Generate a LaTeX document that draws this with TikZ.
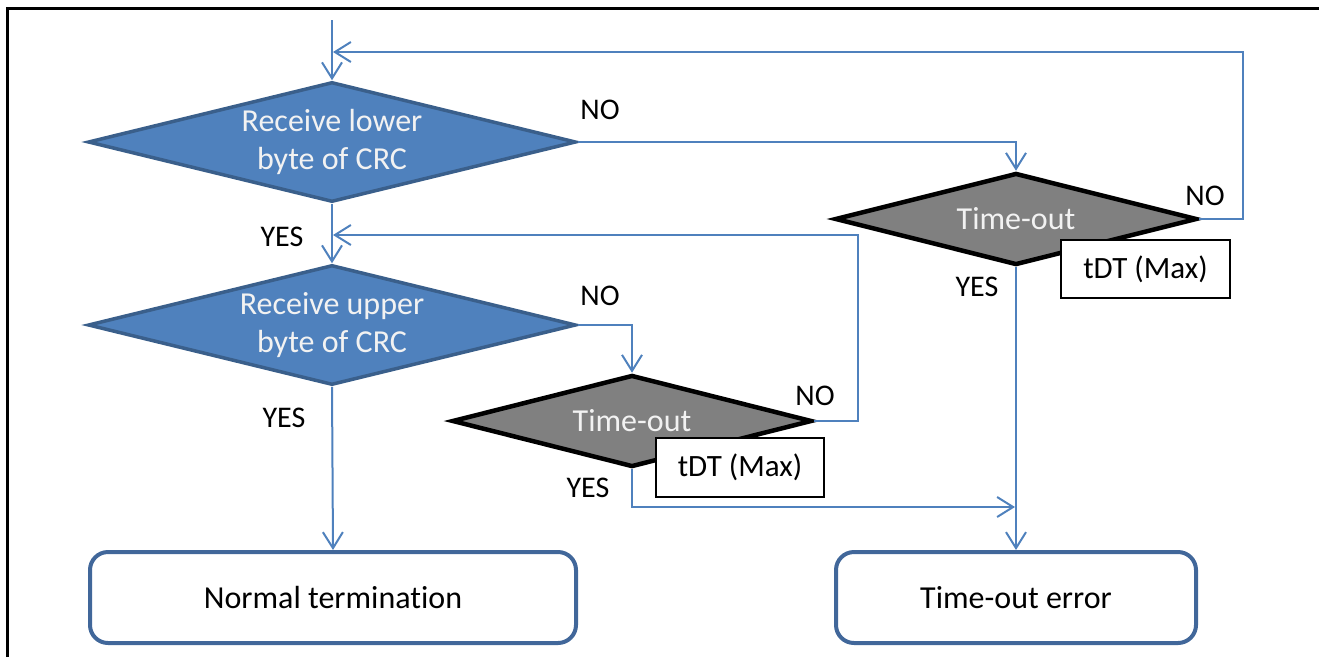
\documentclass[tikz,border=0pt]{standalone}
\usepackage{fontspec}
\setmainfont[Ligatures=NoCommon]{Carlito}
\usetikzlibrary{shapes.geometric,arrows.meta}
\definecolor{lineblue}{HTML}{4F81BD}
\definecolor{darkblue}{HTML}{3A5F8B}
\definecolor{termblue}{HTML}{41679A}
\definecolor{offwhite}{HTML}{F2F2F2}
\tikzset{
  conn/.style={draw=lineblue,line width=2pt,-{Straight Barb[length=16pt,width=20pt,line width=2pt]}},
  bluedec/.style={diamond,aspect=4,inner sep=0pt,fill=lineblue,draw=darkblue,line width=3.5pt,text=offwhite,align=center,font=\fontsize{32}{38}\selectfont},
  graydec/.style={diamond,aspect=4,inner sep=0pt,fill=gray,draw=black,line width=4.5pt,text=offwhite,align=center,font=\fontsize{32}{38}\selectfont},
  tbox/.style={rectangle,fill=white,draw=black,line width=2pt,inner sep=0pt,font=\fontsize{31}{36}\selectfont},
  term/.style={rectangle,rounded corners=18pt,fill=white,draw=termblue,line width=4pt,inner sep=0pt,font=\fontsize{32}{38}\selectfont},
  lbl/.style={inner sep=0pt,font=\fontsize{30}{36}\selectfont}
}
\begin{document}
\begin{tikzpicture}[x=1pt,y=-1pt]
\useasboundingbox (0,0) rectangle (1319,657);
\draw[line width=3pt] (7,657) -- (7,8) -- (1319,8);

\node[bluedec,minimum width=488pt,minimum height=120pt] (d1) at (332,142) {Receive lower\\byte of CRC};
\node[bluedec,minimum width=488pt,minimum height=120pt] (d2) at (332,325) {Receive upper\\byte of CRC};
\node[graydec,minimum width=360pt,minimum height=92pt] (d3) at (632,421) {Time-out};
\node[graydec,minimum width=362pt,minimum height=92pt] (d4) at (1016,219) {Time-out};
\node[tbox,minimum width=168pt,minimum height=59pt] (t3) at (740,467.5) {tDT (Max)};
\node[tbox,minimum width=169pt,minimum height=58pt] (t4) at (1145.5,269) {tDT (Max)};
\node[term,minimum width=486pt,minimum height=91pt] (normal) at (333,597.5) {Normal termination};
\node[term,minimum width=360pt,minimum height=91pt] (err) at (1016,597.5) {Time-out error};

\coordinate (start) at (332,20);
\coordinate (loopR) at (1243,52);
\coordinate (loopEnd) at (333,52);
\coordinate (loop2R) at (858,235);
\coordinate (loop2End) at (333,235);
\coordinate (yesEnd) at (1015,507);

\draw[conn] (start) -- (d1.north);
\draw[conn] (d4.east) -| (loopR) -- (loopEnd);
\draw[conn] (d1.east) -| (d4.north);
\draw[conn] (d1.south) -- (d2.north);
\draw[conn] (d2.east) -| (d3.north);
\draw[conn] (d3.east) -| (loop2R) -- (loop2End);
\draw[conn] (d2.south) -- (normal.north);
\draw[conn] (d3.south) |- (yesEnd);
\draw[conn] (d4.south) -- (err.north);

\node[lbl] (l1) at (600,110) {NO};
\node[lbl] (l2) at (282,237) {YES};
\node[lbl] (l3) at (1205,196) {NO};
\node[lbl] (l4) at (977,287) {YES};
\node[lbl] (l5) at (600,296) {NO};
\node[lbl] (l6) at (815,396) {NO};
\node[lbl] (l7) at (284,418) {YES};
\node[lbl] (l8) at (588,488) {YES};
\end{tikzpicture}
\end{document}
